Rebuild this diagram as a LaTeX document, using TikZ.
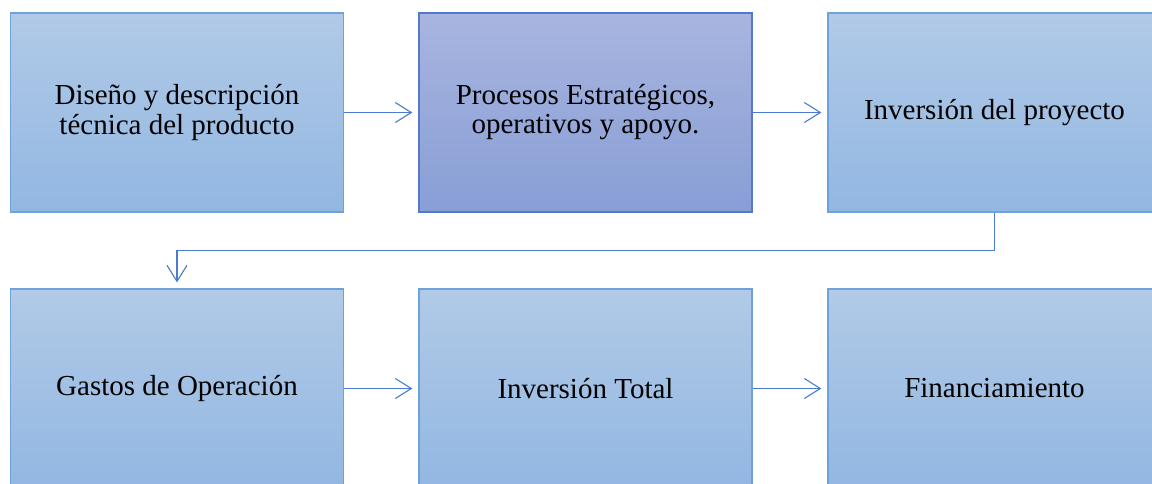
\documentclass[tikz,border=0pt]{standalone}
\usepackage{fontspec}
\setmainfont{Liberation Serif}
\usetikzlibrary{arrows.meta,calc}
\definecolor{boxtop}{HTML}{B1CAE7}
\definecolor{boxbot}{HTML}{92B7E2}
\definecolor{boxline}{HTML}{6FA1DB}
\definecolor{keytop}{HTML}{A8B5DF}
\definecolor{keybot}{HTML}{889ED6}
\definecolor{keyline}{HTML}{5578CC}
\definecolor{flow}{HTML}{4A7BD0}
\tikzset{
  stage/.style={draw=boxline, line width=1.3pt, top color=boxtop, bottom color=boxbot,
    minimum width=333pt, minimum height=199pt, inner sep=0pt, align=center,
    font=\fontsize{29}{29}\selectfont, text=black},
  keystage/.style={stage, draw=keyline, top color=keytop, bottom color=keybot},
  conn/.style={draw=flow, line width=1.1pt, shorten >=6pt,
    -{Straight Barb[length=16pt,width=20pt,line width=1.1pt]}}
}
\begin{document}
\begin{tikzpicture}[x=1pt,y=-1pt]
  \useasboundingbox (0,0) rectangle (1152,483);
  \clip (0,0) rectangle (1152,483);
  \node[stage]    (a) at (177,112.5)   {Diseño y descripción\\técnica del producto};
  \node[keystage] (b) at (585.5,112.5) {Procesos Estratégicos,\\operativos y apoyo.};
  \node[stage]    (c) at (994.5,112.5) {Inversión del proyecto};
  \node[stage]    (d) at (177,388.5)   {Gastos de Operación};
  \node[stage]    (e) at (585.5,388.5) {Inversión Total};
  \node[stage]    (f) at (994.5,388.5) {Financiamiento};
  \draw[conn] (a) -- (b);
  \draw[conn] (b) -- (c);
  \coordinate (turn) at ($(c.south)!0.5!(d.north)$);
  \draw[conn] (c.south) |- (turn) -| (d.north);
  \draw[conn] (d) -- (e);
  \draw[conn] (e) -- (f);
\end{tikzpicture}
\end{document}
